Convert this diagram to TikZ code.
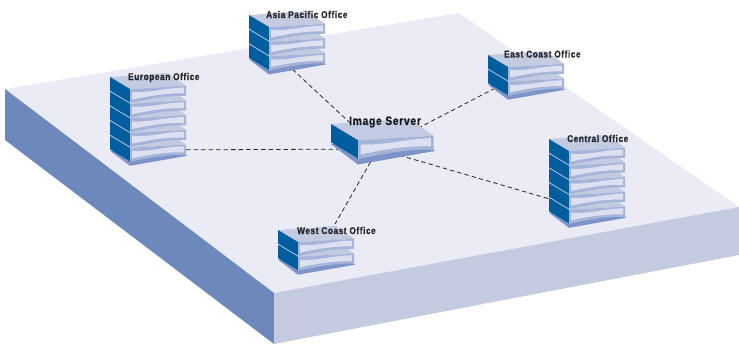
\documentclass[tikz,border=0pt]{standalone}
\usepackage{fontspec}
\setmainfont{Liberation Sans}[FakeStretch=0.84,LetterSpace=6,FakeBold=0.6]
\definecolor{plateTop}{HTML}{EAEBF5}
\definecolor{plateRight}{HTML}{C4CBE1}
\definecolor{plateLeft}{HTML}{6D89BC}
\definecolor{unitBlue}{HTML}{005E9E}
\definecolor{unitTop}{HTML}{C3CBE2}
\definecolor{unitFrame}{HTML}{A5B4D9}
\definecolor{unitFace}{HTML}{DCE0F0}
\definecolor{unitShadow}{HTML}{7C94C8}
\tikzset{>=stealth,
    officelabel/.style={inner sep=0pt, font=\bfseries\fontsize{9.8}{11}\selectfont, text=black!85},
    serverlabel/.style={inner sep=0pt, font=\bfseries\fontsize{12.2}{14}\selectfont, text=black!90},
    link/.style={dashed, dash pattern=on 4.5pt off 3pt, line width=0.8pt, black!85},
    unitshadow/.pic={
        \fill[unitShadow] (0,15) -- (20,30) -- (77,20) -- (70,14) -- cycle;
    },
    unitbox/.pic={
        \fill[unitTop] (0,0) -- (20,12) -- (76,8.7) -- (58,-4) -- cycle;
        \fill[unitBlue] (0,0) -- (20,12) -- (20,25.5) -- (0,13.5) -- cycle;
        \fill[unitFrame] (20,12) -- (76,8.7) -- (76,19) .. controls (55,18.5) and (40,22) .. (20,26) -- cycle;
        \fill[unitFace] (22,15) .. controls (40,16) and (55,11) .. (74,10.5) -- (74,16.5)
            .. controls (55,16) and (40,19) .. (22,22.5) -- cycle;
    }
}
\begin{document}
\begin{tikzpicture}[x=1pt, y=-1pt]
    \useasboundingbox (0,0) rectangle (739,346);
    % plate
    \coordinate (pl) at (5,89);
    \coordinate (pb) at (459,13);
    \coordinate (pr) at (739,207);
    \coordinate (pf) at (274,293);
    \fill[plateTop] (pl) -- (pb) -- (pr) -- (pf) -- cycle;
    \fill[plateLeft] (pl) -- (pf) -- (274,344) -- (5,140) -- cycle;
    \fill[plateRight] (pf) -- (pr) -- (739,255) -- (274,344) -- cycle;
    % links
    \coordinate (server) at (378,149);
    \coordinate (european) at (150,150);
    \coordinate (asia) at (290,67);
    \coordinate (eastcoast) at (505,83);
    \coordinate (central) at (560,202);
    \coordinate (westcoast) at (335,224);
    \foreach \office in {european, asia, eastcoast, central, westcoast}
        \draw[link] (server) -- (\office);
    % office stacks: x / y / number of boxes
    \foreach \x/\y/\n in {110/77/5, 249/15/3, 488/55/2, 549/139/5, 278/230/2} {
        \pgfmathsetmacro{\ylast}{\y+14.7*(\n-1)}
        \pic at (\x,\ylast) {unitshadow};
        \foreach \i in {\n,...,1}
            \pic at (\x,{\y+14.7*(\i-1)}) {unitbox};
    }
    % server
    \pic[scale=1.35] at (331,124) {unitshadow};
    \pic[scale=1.35] at (331,124) {unitbox};
    % labels
    \node[officelabel, anchor=west] (europeanlabel) at (128,77.5) {European Office};
    \node[officelabel, anchor=west] (asialabel) at (266,14.5) {Asia Pacific Office};
    \node[officelabel, anchor=west] (eastcoastlabel) at (504,54) {East Coast Office};
    \node[officelabel, anchor=west] (centrallabel) at (567,138.5) {Central Office};
    \node[officelabel, anchor=west] (westcoastlabel) at (297,230.5) {West Coast Office};
    \node[serverlabel, anchor=west] (serverlabel) at (349,122) {Image Server};
\end{tikzpicture}
\end{document}
